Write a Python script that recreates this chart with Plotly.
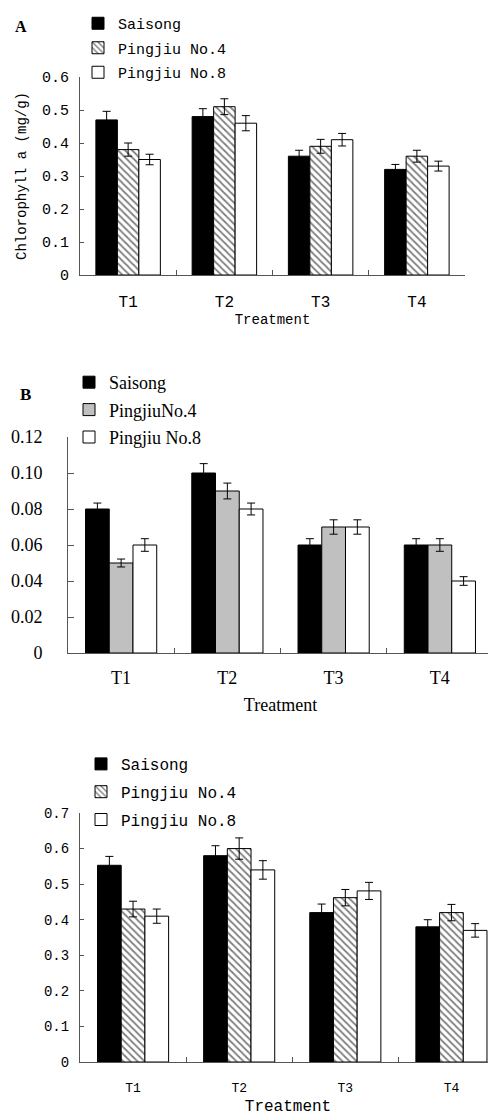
import plotly.graph_objects as go

categories = ["T1", "T2", "T3", "T4"]
series_names_ac = ["Saisong", "Pingjiu No.4", "Pingjiu No.8"]
series_names_b = ["Saisong", "PingjiuNo.4", "Pingjiu No.8"]

# Panel A: Chlorophyll a (mg/g)
a_saisong = [0.47, 0.48, 0.36, 0.32]
a_p4 = [0.38, 0.51, 0.39, 0.36]
a_p8 = [0.35, 0.46, 0.41, 0.33]
a_saisong_err = [0.026, 0.024, 0.018, 0.015]
a_p4_err = [0.020, 0.024, 0.021, 0.018]
a_p8_err = [0.016, 0.023, 0.019, 0.015]

# Panel B
b_saisong = [0.08, 0.10, 0.06, 0.06]
b_p4 = [0.05, 0.09, 0.07, 0.06]
b_p8 = [0.06, 0.08, 0.07, 0.04]
b_saisong_err = [0.0033, 0.0052, 0.0035, 0.0035]
b_p4_err = [0.0022, 0.0044, 0.0040, 0.0035]
b_p8_err = [0.0035, 0.0033, 0.0040, 0.0024]

# Panel C
c_saisong = [0.553, 0.58, 0.42, 0.38]
c_p4 = [0.43, 0.60, 0.462, 0.42]
c_p8 = [0.41, 0.54, 0.481, 0.37]
c_saisong_err = [0.025, 0.028, 0.024, 0.020]
c_p4_err = [0.022, 0.030, 0.023, 0.023]
c_p8_err = [0.020, 0.026, 0.024, 0.019]

a_tickvals = [0, 0.1, 0.2, 0.3, 0.4, 0.5, 0.6]
a_ticktext = ["0", "0.1", "0.2", "0.3", "0.4", "0.5", "0.6"]
b_tickvals = [0, 0.02, 0.04, 0.06, 0.08, 0.10, 0.12]
b_ticktext = ["0", "0.02", "0.04", "0.06", "0.08", "0.10", "0.12"]
c_tickvals = [0, 0.1, 0.2, 0.3, 0.4, 0.5, 0.6, 0.7]
c_ticktext = ["0", "0.1", "0.2", "0.3", "0.4", "0.5", "0.6", "0.7"]

MONO = "Liberation Mono"
SERIF = "Liberation Serif"
OFF = 8  # default page body margin
W, H = 496 - OFF, 1116 - OFF

def px_x(p):
    return (p - OFF) / W

def px_y(p):
    return 1 - (p - OFF) / H

fig = go.Figure()

def err(arr):
    return dict(type="data", array=arr, visible=True, color="black", thickness=1, width=4)

def add_panel(xa, ya, legend, vals, errs, names, styles):
    for i in range(3):
        st = styles[i]
        marker = dict(color=st["color"], line=dict(color="black", width=1))
        if st.get("pattern"):
            marker["pattern"] = dict(shape="\\", fgcolor="black", bgcolor="white", size=5, solidity=0.35)
        fig.add_trace(go.Bar(
            x=categories, y=vals[i], name=names[i], marker=marker,
            error_y=err(errs[i]), xaxis=xa, yaxis=ya, legend=legend,
            legendgroup=legend + str(i),
        ))

styles_ac = [dict(color="black"), dict(color="white", pattern=True), dict(color="white")]
styles_b = [dict(color="black"), dict(color="#c0c0c0"), dict(color="white")]

add_panel("x", "y", "legend", [a_saisong, a_p4, a_p8], [a_saisong_err, a_p4_err, a_p8_err], series_names_ac, styles_ac)
add_panel("x2", "y2", "legend2", [b_saisong, b_p4, b_p8], [b_saisong_err, b_p4_err, b_p8_err], series_names_b, styles_b)
add_panel("x3", "y3", "legend3", [c_saisong, c_p4, c_p8], [c_saisong_err, c_p4_err, c_p8_err], series_names_ac, styles_ac)

axis_line = "#555555"

def xaxis(domain, anchor, font, title_font, standoff, title_standoff, rng=None):
    d = dict(domain=domain, anchor=anchor, showline=True, linecolor=axis_line, linewidth=1,
             ticks="inside", tickson="boundaries", ticklen=5, tickcolor=axis_line,
             tickfont=font, ticklabelstandoff=standoff, showgrid=False, zeroline=False,
             title=dict(text="Treatment", font=title_font, standoff=title_standoff),
             fixedrange=True, automargin=False)
    if rng is not None:
        d["range"] = rng
    return d

def yaxis(domain, anchor, rng, tv, tt, font, standoff, ticklen, title=None):
    d = dict(domain=domain, anchor=anchor, range=rng, showline=True, linecolor=axis_line, linewidth=1,
             ticks="inside", ticklen=ticklen, tickcolor=axis_line, tickvals=tv, ticktext=tt,
             tickfont=font, ticklabelstandoff=standoff, showgrid=False, zeroline=False,
             fixedrange=True, automargin=False)
    if title:
        d["title"] = title
    return d

fig.update_layout(
    width=W, height=H, margin=dict(l=0, r=0, t=0, b=0, pad=0, autoexpand=False),
    paper_bgcolor="white", plot_bgcolor="white",
    barmode="group", bargap=0.33, bargroupgap=0,
    font=dict(family=MONO, color="black"),
    xaxis=xaxis([px_x(80), px_x(465)], "y", dict(family=MONO, size=16), dict(family=MONO, size=14), 12, 2),
    yaxis=yaxis([px_y(275), px_y(77)], "x", [0, 0.6], a_tickvals, a_ticktext, dict(family=MONO, size=15), 7, 4,
                title=dict(text="Chlorophyll a (mg/g)", font=dict(family=MONO, size=14), standoff=12)),
    xaxis2=xaxis([px_x(68), px_x(493)], "y2", dict(family=SERIF, size=18), dict(family=SERIF, size=18), 8, 11),
    yaxis2=yaxis([px_y(653), px_y(437)], "x2", [0, 0.12], b_tickvals, b_ticktext, dict(family=SERIF, size=18), 21, 6),
    xaxis3=xaxis([px_x(80), 1.0], "y3", dict(family=MONO, size=13), dict(family=MONO, size=16), 13, 11, rng=[-0.5, 3.42]),
    yaxis3=yaxis([px_y(1062), px_y(813)], "x3", [0, 0.7], c_tickvals, c_ticktext, dict(family=MONO, size=14), 7, 4),
    legend=dict(x=px_x(78), y=px_y(7), xanchor="left", yanchor="top", bgcolor="rgba(0,0,0,0)",
                font=dict(family=MONO, size=15), tracegroupgap=2, itemclick=False, itemdoubleclick=False),
    legend2=dict(x=px_x(69), y=px_y(364), xanchor="left", yanchor="top", bgcolor="rgba(0,0,0,0)",
                 font=dict(family=SERIF, size=18), tracegroupgap=1, itemclick=False, itemdoubleclick=False),
    legend3=dict(x=px_x(81), y=px_y(747), xanchor="left", yanchor="top", bgcolor="rgba(0,0,0,0)",
                 font=dict(family=MONO, size=16), tracegroupgap=4, itemclick=False, itemdoubleclick=False),
    annotations=[
        dict(text="<b>A</b>", x=px_x(21), y=px_y(26), xref="paper", yref="paper", showarrow=False,
             xanchor="center", yanchor="middle", font=dict(family=SERIF, size=16)),
        dict(text="<b>B</b>", x=px_x(25), y=px_y(394), xref="paper", yref="paper", showarrow=False,
             xanchor="center", yanchor="middle", font=dict(family=SERIF, size=17)),
    ],
)

fig.write_html("out.html")
